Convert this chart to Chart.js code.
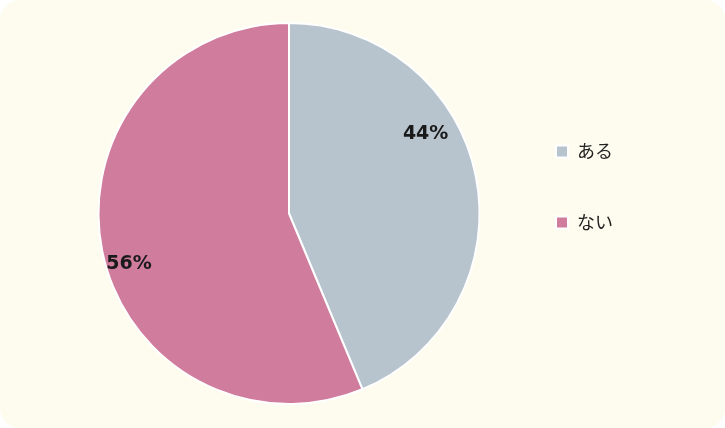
<!DOCTYPE html>
<html>
<head>
<meta charset="utf-8">
<script src="https://cdn.jsdelivr.net/npm/chart.js@4.4.3/dist/chart.umd.min.js"></script>
<style>
  html, body { margin: 0; padding: 0; background: #ffffff; }
  .card {
    width: 725px;
    height: 428px;
    background: #fefcee;
    border-radius: 20px;
    overflow: hidden;
  }
</style>
</head>
<body>
<div class="card">
  <canvas id="pie" width="725" height="428"></canvas>
</div>
<script>
  const categories = ['ある', 'ない']
  const shares = [43.7, 56.3]
  const sliceColors = ['#b7c3cd', '#d07c9c']

  // where the % text sits inside each slice (fraction of angle / radius)
  const labelSpots = [{ a: 0.38, r: 0.83 }, { a: 0.47, r: 0.88 }]

  const pctLabels = {
    id: 'pctLabels',
    afterDatasetsDraw(chart) {
      const ctx = chart.ctx
      const meta = chart.getDatasetMeta(0)
      ctx.save()
      ctx.font = 'bold 19px "DejaVu Sans"'
      ctx.fillStyle = '#1a1a1a'
      ctx.textAlign = 'center'
      ctx.textBaseline = 'middle'
      meta.data.forEach((arc, i) => {
        const p = arc.getProps(['x', 'y', 'startAngle', 'endAngle', 'outerRadius'], true)
        const spot = labelSpots[i]
        const ang = p.startAngle + (p.endAngle - p.startAngle) * spot.a
        const rr = p.outerRadius * spot.r
        ctx.fillText(Math.round(shares[i]) + '%', p.x + Math.cos(ang) * rr, p.y + Math.sin(ang) * rr)
      })
      ctx.restore()
    }
  }

  new Chart(document.getElementById('pie'), {
    type: 'pie',
    data: {
      labels: categories,
      datasets: [{
        data: shares,
        backgroundColor: sliceColors,
        borderColor: '#ffffff',
        borderWidth: 2
      }]
    },
    options: {
      responsive: false,
      animation: false,
      layout: {
        padding: { top: 22, bottom: 23, left: 75, right: 102 }
      },
      plugins: {
        tooltip: { enabled: false },
        legend: {
          position: 'right',
          align: 'start',
          title: {
            display: true,
            text: '',
            padding: { top: 53, bottom: 0 },
            font: { size: 12 }
          },
          labels: {
            boxWidth: 12,
            boxHeight: 12,
            padding: 53,
            color: '#222222',
            font: { family: '"Noto Sans CJK JP"', size: 18 }
          }
        }
      }
    },
    plugins: [pctLabels]
  })
</script>
</body>
</html>
